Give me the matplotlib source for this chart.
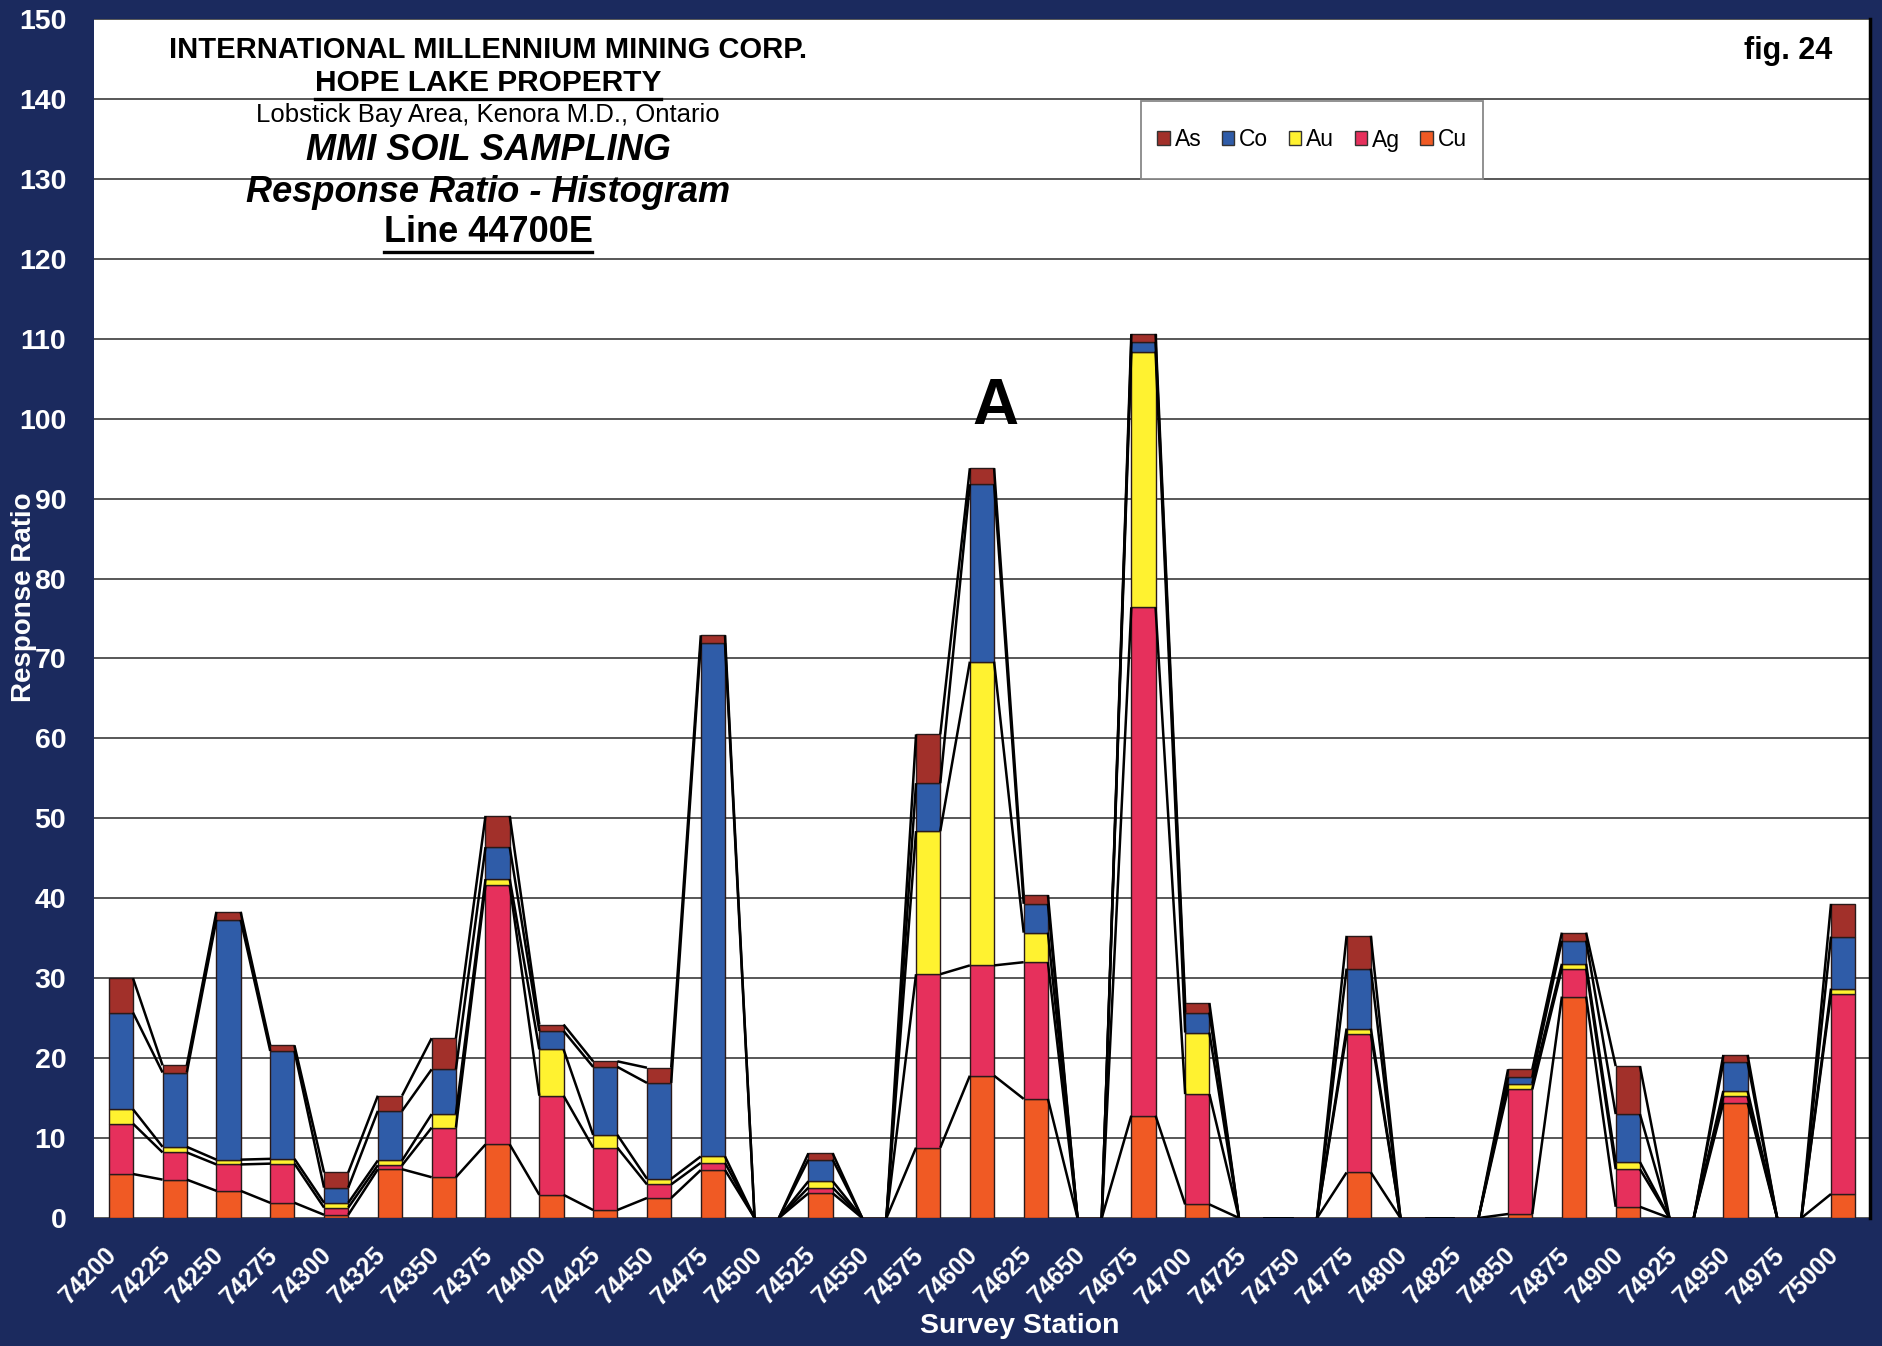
import numpy as np
import matplotlib
matplotlib.use("Agg")
import matplotlib.pyplot as plt
from matplotlib.patches import Patch, Rectangle
from matplotlib.transforms import ScaledTranslation

plt.rcParams['font.family'] = ['Liberation Sans', 'DejaVu Sans']

# Estaciones (eje X)
estaciones = ['74200', '74225', '74250', '74275', '74300', '74325', '74350', '74375',
              '74400', '74425', '74450', '74475', '74500', '74525', '74550', '74575',
              '74600', '74625', '74650', '74675', '74700', '74725', '74750', '74775',
              '74800', '74825', '74850', '74875', '74900', '74925', '74950', '74975',
              '75000']

# Valores de cada elemento (apilados: Cu abajo, As arriba)
Cu = [5.5, 4.8, 3.4, 1.9, 0.4, 6.1, 5.1, 9.2, 2.9, 1.0, 2.5, 6.0, 0, 3.1, 0, 8.8,
      17.8, 14.9, 0, 12.8, 1.7, 0, 0, 5.7, 0, 0, 0.5, 27.7, 1.4, 0, 14.4, 0, 3.0]
Ag = [6.3, 3.4, 3.3, 4.9, 0.9, 0.5, 6.2, 32.4, 12.4, 7.8, 1.7, 0.9, 0, 0.7, 0, 21.7,
      13.8, 17.1, 0, 63.6, 13.8, 0, 0, 17.3, 0, 0, 15.6, 3.5, 4.7, 0, 0.8, 0, 25.0]
Au = [1.8, 0.7, 0.6, 0.6, 0.6, 0.6, 1.7, 0.8, 5.8, 1.6, 0.7, 0.8, 0, 0.8, 0, 17.9,
      38.0, 3.7, 0, 32.0, 7.7, 0, 0, 0.7, 0, 0, 0.7, 0.6, 0.9, 0, 0.7, 0, 0.7]
Co = [12.1, 9.3, 30.0, 13.5, 1.9, 6.2, 5.6, 4.0, 2.3, 8.5, 12.0, 64.2, 0, 2.7, 0, 6.0,
      22.2, 3.6, 0, 1.2, 2.5, 0, 0, 7.5, 0, 0, 0.8, 2.9, 6.0, 0, 3.6, 0, 6.5]
As = [4.3, 0.9, 1.0, 0.7, 1.9, 1.9, 3.9, 3.9, 0.8, 0.7, 1.9, 1.0, 0, 0.8, 0, 6.1,
      2.0, 1.1, 0, 1.0, 1.2, 0, 0, 4.1, 0, 0, 1.0, 1.0, 6.0, 0, 0.9, 0, 4.1]

series = [('Cu', Cu, '#f05a24'), ('Ag', Ag, '#e6305c'), ('Au', Au, '#fff230'),
          ('Co', Co, '#2f5ca8'), ('As', As, '#a2302a')]

navy = '#1b2a5e'
ancho = 0.45
W, H = 1883, 1346

fig = plt.figure(figsize=(18.83, 13.46), dpi=100, facecolor=navy)
ax = fig.add_axes([0.0499, 0.0951, 0.9432, 0.8908])
ax.set_facecolor('white')

x = np.arange(len(estaciones))
base = np.zeros(len(estaciones))
tops = []
for nombre, vals, col in series:
    vals = np.array(vals, dtype=float)
    ax.bar(x, vals, ancho, bottom=base, color=col, edgecolor='#2a1a1a',
           linewidth=1.0, zorder=3)
    base = base + vals
    tops.append(base.copy())

# lineas de serie (conectan los topes de cada segmento)
for t in tops:
    for i in range(len(x) - 1):
        ax.plot([x[i] + ancho / 2, x[i + 1] - ancho / 2], [t[i], t[i + 1]],
                color='black', lw=1.8, zorder=4, solid_capstyle='butt')

ax.set_xlim(-0.5, len(x) - 0.5)
ax.set_ylim(0, 150)
ax.set_yticks(np.arange(0, 151, 10))
ax.yaxis.grid(True, color='#4a4a4a', lw=1.3)
ax.set_axisbelow(True)
ax.set_xticks(x)
ax.set_xticklabels(estaciones, rotation=45, ha='right', va='center',
                   rotation_mode='anchor')
ax.tick_params(axis='both', length=0, colors='white')
ax.tick_params(axis='x', pad=24, labelsize=18)
ax.tick_params(axis='y', pad=20, labelsize=20.5)
desplaza = ScaledTranslation(-8 / 100, 0, fig.dpi_scale_trans)
for lab in ax.get_xticklabels():
    lab.set_fontweight('bold')
    lab.set_transform(lab.get_transform() + desplaza)
for lab in ax.get_yticklabels():
    lab.set_fontweight('bold')
for s in ['top', 'left', 'bottom']:
    ax.spines[s].set_visible(False)
ax.spines['right'].set_color('black')
ax.spines['right'].set_linewidth(2.5)

fig.text(1020 / W, 1 - 1326 / H, 'Survey Station', color='white',
         fontsize=20.5, fontweight='bold', ha='center', va='center')
fig.text(24 / W, 1 - 597 / H, 'Response Ratio', color='white',
         fontsize=20, fontweight='bold', ha='center', va='center', rotation=90)

# Titulos
cx = 488 / W
def linea(texto, ypx, size, weight='bold', style='normal', subrayar=False):
    t = fig.text(cx, 1 - ypx / H, texto, fontsize=size, fontweight=weight,
                 fontstyle=style, ha='center', va='center', color='black')
    if subrayar:
        fig.canvas.draw()
        bb = t.get_window_extent()
        yy = bb.y0 - 2
        fig.add_artist(plt.Line2D([bb.x0 / W, bb.x1 / W], [yy / H, yy / H],
                                  color='black', lw=2.4, transform=fig.transFigure))
    return t

linea('INTERNATIONAL MILLENNIUM MINING CORP.', 50, 21)
linea('HOPE LAKE PROPERTY', 83, 21.5, subrayar=True)
linea('Lobstick Bay Area, Kenora M.D., Ontario', 115, 18.5, weight='normal')
linea('MMI SOIL SAMPLING', 151, 26, style='italic')
linea('Response Ratio - Histogram', 192, 26, style='italic')
linea('Line 44700E', 232, 26, subrayar=True)

fig.text(1788 / W, 1 - 51 / H, 'fig. 24', fontsize=22, fontweight='bold',
         ha='center', va='center')
ax.text(16.25, 101.5, 'A', fontsize=46, fontweight='bold', ha='center', va='center',
        zorder=5)

# Leyenda con marco propio
bx0, bx1, by0, by1 = 1141, 1483, 101, 179
fig.add_artist(Rectangle((bx0 / W, 1 - by1 / H), (bx1 - bx0) / W, (by1 - by0) / H,
                         transform=fig.transFigure, facecolor='white',
                         edgecolor='#888888', lw=1.3, zorder=6))
handles = [Patch(facecolor=c, edgecolor='#333333', label=n) for n, v, c in series[::-1]]
leg = fig.legend(handles=handles, ncol=5, loc='center',
                 bbox_to_anchor=((bx0 + bx1) / 2 / W, 1 - (by0 + by1) / 2 / H),
                 fontsize=16.5, frameon=False, handlelength=0.55,
                 handleheight=0.55, handletextpad=0.2, columnspacing=0.9,
                 borderpad=0.2)
leg.set_zorder(7)

fig.savefig('out.png', dpi=100, facecolor=navy)
